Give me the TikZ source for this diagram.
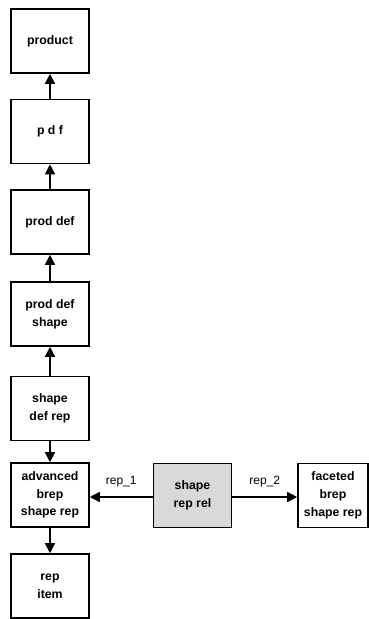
\documentclass[tikz,border=0pt]{standalone}
\usepackage{fontspec}
\setmainfont{Liberation Sans}
\usetikzlibrary{arrows.meta}
\begin{document}
\begin{tikzpicture}[x=1pt,y=-1pt,
  box/.style={draw, line width=1.6pt, minimum width=78pt, minimum height=64pt, align=center, inner sep=0pt,
    font=\fontsize{12.3}{17.8}\selectfont\bfseries},
  conn/.style={line width=1.4pt, -{Triangle[length=10pt,width=10pt]}},
  lbl/.style={font=\fontsize{12}{14}\selectfont}]
\useasboundingbox (0,0) rectangle (369,619);
\node[box] (product) at (50,41) {product};
\node[box] (pdf) at (50,131.5) {p d f};
\node[box] (proddef) at (50,222) {prod def};
\node[box] (pds) at (50,314) {prod def\\shape};
\node[box] (sdr) at (50,408.5) {shape\\def rep};
\node[box] (abr) at (50,495) {advanced\\brep\\shape rep};
\node[box] (ri) at (50,586) {rep\\item};
\node[box, fill={rgb,255:red,217;green,217;blue,217}] (srr) at (192.5,495.5) {shape\\rep rel};
\node[box, minimum width=70pt] (fbr) at (333,495.5) {faceted\\brep\\shape rep};
\draw[conn] (pdf) -- (product);
\draw[conn] (proddef) -- (pdf);
\draw[conn] (pds) -- (proddef);
\draw[conn] (sdr) -- (pds);
\draw[conn] (sdr) -- (abr);
\draw[conn] (abr) -- (ri);
\draw[conn] (srr.west |- 0,497) -- (abr.east |- 0,497) node[lbl, midway, above=6pt] {rep\_1};
\draw[conn] (srr.east |- 0,497) -- (fbr.west |- 0,497) node[lbl, midway, above=6pt] {rep\_2};
\end{tikzpicture}
\end{document}
